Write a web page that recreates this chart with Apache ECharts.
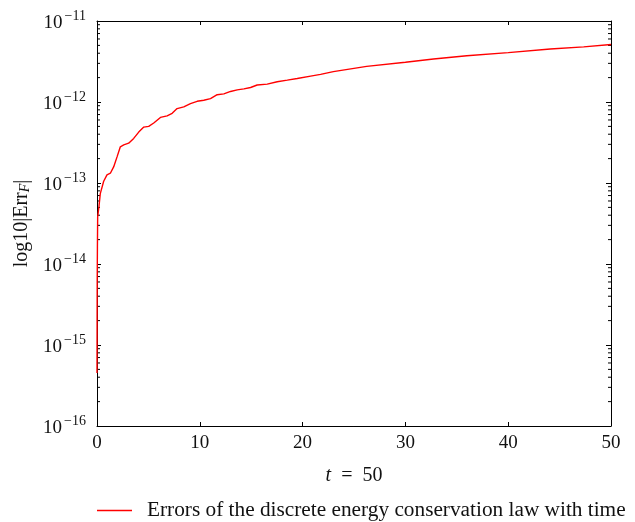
<!DOCTYPE html>
<html>
<head>
<meta charset="utf-8">
<script src="https://cdn.jsdelivr.net/npm/echarts@6/dist/echarts.min.js"></script>
<style>
  html, body { margin: 0; padding: 0; background: #fff; }
  #chart { width: 635px; height: 522px; }
</style>
</head>
<body>
<div id="chart"></div>
<script>
// Time samples t and the energy-conservation error |Err_F| at each sample
const timeValues = [
  0, 0.01, 0.02, 0.04, 0.065, 0.19, 0.32, 0.65, 0.97, 1.30, 1.62, 1.95, 2.27, 2.60,
  3.08, 3.57, 4.06, 4.55, 5.03, 5.52, 6.17, 6.82, 7.31, 7.79, 8.44, 9.09, 9.74,
  10.39, 11.04, 11.69, 12.34, 12.99, 13.64, 14.29, 14.94, 15.58, 16.56, 17.53,
  18.51, 19.48, 20.78, 21.75, 22.99, 26.23, 30, 32.73, 35.97, 40, 44.09, 47.34, 50
];
const errValues = [
  4.5e-16, 2e-15, 6e-15, 1.6e-14, 3.8e-14, 5.1e-14, 7.4e-14, 1.05e-13, 1.26e-13,
  1.32e-13, 1.58e-13, 2.1e-13, 2.8e-13, 2.95e-13, 3.1e-13, 3.55e-13, 4.25e-13,
  4.9e-13, 5.0e-13, 5.5e-13, 6.45e-13, 6.75e-13, 7.25e-13, 8.3e-13, 8.7e-13,
  9.55e-13, 1.02e-12, 1.05e-12, 1.1e-12, 1.23e-12, 1.26e-12, 1.35e-12, 1.41e-12,
  1.45e-12, 1.51e-12, 1.62e-12, 1.66e-12, 1.78e-12, 1.86e-12, 1.95e-12, 2.09e-12,
  2.19e-12, 2.37e-12, 2.75e-12, 3.09e-12, 3.39e-12, 3.72e-12, 4.07e-12, 4.52e-12,
  4.79e-12, 5.13e-12
];

// Axis ranges and tick layout
const xTicks = [0, 10, 20, 30, 40, 50];
const yDecades = [-16, -15, -14, -13, -12, -11];
const minorMultipliers = [2, 3, 4, 5, 6, 7, 8, 9];

const seriesName = 'Errors of the discrete energy conservation law with time';
const serif = '"Liberation Serif", "DejaVu Serif", serif';

const points = timeValues.map((t, i) => [t, errValues[i]]);

// Log-axis minor tick positions: 2..9 times each decade
const minorTickValues = [];
yDecades.slice(0, -1).forEach(e => {
  minorMultipliers.forEach(m => minorTickValues.push([m * Math.pow(10, e)]));
});

const xMin = xTicks[0], xMax = xTicks[xTicks.length - 1];
const yMin = Math.pow(10, yDecades[0]), yMax = Math.pow(10, yDecades[yDecades.length - 1]);

function powerLabel(v) {
  const e = Math.round(Math.log10(v));
  return '{b|10}{s|' + (e < 0 ? '\u2212' + (-e) : e) + '}';
}

const frameLine = { show: true, onZero: false, lineStyle: { color: '#000', width: 1 } };

const chart = echarts.init(document.getElementById('chart'), null, { renderer: 'canvas' });

chart.setOption({
  animation: false,
  backgroundColor: '#fff',
  grid: { left: 97, right: 24, top: 21, bottom: 96, containLabel: false },
  legend: {
    data: [seriesName],
    left: 97, top: 500, padding: 0,
    icon: 'rect', itemWidth: 35, itemHeight: 1.5,
    textStyle: { fontFamily: serif, fontSize: 21.3, color: '#111', padding: [0, 0, 0, 10] }
  },
  xAxis: [{
    type: 'value', min: xMin, max: xMax, interval: 10, position: 'bottom',
    name: '{i|t}{n|\u2002=\u200250}', nameLocation: 'middle', nameGap: 40,
    nameTextStyle: {
      rich: {
        i: { fontFamily: serif, fontSize: 20, fontStyle: 'italic', color: '#111' },
        n: { fontFamily: serif, fontSize: 20, color: '#111' }
      }
    },
    axisLine: frameLine,
    axisTick: { show: true, inside: true, length: 4, lineStyle: { color: '#000' } },
    axisLabel: { fontFamily: serif, fontSize: 19, color: '#111', margin: 8 },
    splitLine: { show: false }
  }, {
    type: 'value', min: xMin, max: xMax, interval: 10, position: 'top',
    axisLine: frameLine,
    axisTick: { show: true, inside: true, length: 4, lineStyle: { color: '#000' } },
    axisLabel: { show: false },
    splitLine: { show: false }
  }],
  yAxis: [{
    type: 'log', logBase: 10, min: yMin, max: yMax, position: 'left',
    name: '{n|log10|Err}{s|F}{n||}', nameLocation: 'middle', nameGap: 65, nameRotate: 90,
    nameTextStyle: {
      rich: {
        n: { fontFamily: serif, fontSize: 20, color: '#111', verticalAlign: 'bottom', lineHeight: 24 },
        s: { fontFamily: serif, fontSize: 14, fontStyle: 'italic', color: '#111', verticalAlign: 'bottom', lineHeight: 18 }
      }
    },
    axisLine: frameLine,
    axisTick: { show: true, inside: true, length: 4, lineStyle: { color: '#000' } },
    axisLabel: {
      margin: 11,
      formatter: powerLabel,
      rich: {
        b: { fontFamily: serif, fontSize: 19, color: '#111', verticalAlign: 'bottom', lineHeight: 24 },
        s: { fontFamily: serif, fontSize: 14, color: '#111', verticalAlign: 'top', lineHeight: 24, padding: [0, 0, 0, 2] }
      }
    },
    splitLine: { show: false }
  }, {
    type: 'log', logBase: 10, min: yMin, max: yMax, position: 'right',
    axisLine: frameLine,
    axisTick: { show: true, inside: true, length: 5, lineStyle: { color: '#000' } },
    axisLabel: { show: false },
    splitLine: { show: false }
  }],
  series: [{
    name: seriesName,
    type: 'line',
    xAxisIndex: 0, yAxisIndex: 0,
    data: points,
    showSymbol: false, symbol: 'none',
    lineStyle: { color: '#ff0000', width: 1.4 },
    itemStyle: { color: '#ff0000' },
    z: 5
  }, {
    // short minor ticks on the left and right frame edges
    name: 'minorTicks',
    type: 'custom',
    xAxisIndex: 0, yAxisIndex: 0,
    silent: true,
    data: minorTickValues,
    renderItem: function (params, api) {
      const left = api.coord([xMin, api.value(0)]);
      const right = api.coord([xMax, api.value(0)]);
      const style = { stroke: '#000', lineWidth: 1 };
      return {
        type: 'group',
        children: [
          { type: 'line', shape: { x1: left[0], y1: left[1], x2: left[0] + 3, y2: left[1] }, style: style },
          { type: 'line', shape: { x1: right[0], y1: right[1], x2: right[0] - 3, y2: right[1] }, style: style }
        ]
      };
    },
    encode: { y: 0 },
    z: 3
  }]
});
</script>
</body>
</html>
